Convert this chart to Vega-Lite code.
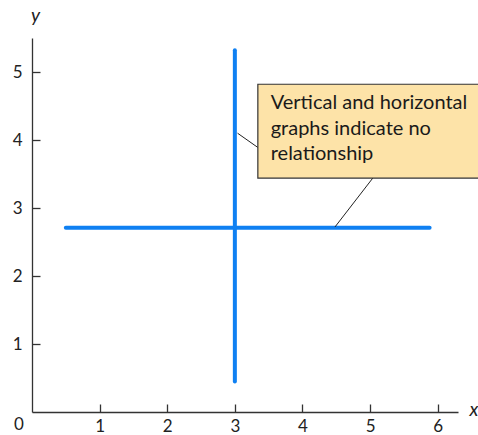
{
  "$schema": "https://vega.github.io/schema/vega-lite/v6.json",
  "width": 426,
  "height": 374,
  "autosize": {"type": "none"},
  "padding": {"left": 32, "top": 38, "right": 20, "bottom": 23},
  "background": "white",
  "config": {
    "view": {"stroke": null},
    "font": "Lato",
    "axis": {
      "grid": false,
      "domainColor": "#333333",
      "domainWidth": 1.3,
      "tickColor": "#333333",
      "tickWidth": 1.3,
      "tickSize": -8,
      "labelFont": "Lato",
      "labelFontSize": 17,
      "labelColor": "#222222",
      "format": "d",
      "titleFont": "Lato",
      "titleFontSize": 19,
      "titleFontStyle": "italic",
      "titleFontWeight": "normal",
      "titleColor": "#222222"
    }
  },
  "layer": [
    {
      "data": {"values": [
        {"x": 0.5, "y": 2.71, "x2": 5.88, "y2": 2.71},
        {"x": 3.0, "y": 0.45, "x2": 3.0, "y2": 5.32}
      ]},
      "mark": {"type": "rule", "color": "#0f80f2", "strokeWidth": 4, "strokeCap": "round"},
      "encoding": {
        "x": {"field": "x", "type": "quantitative", "scale": {"domain": [0, 6.3], "zero": false, "nice": false},
          "axis": {"values": [1, 2, 3, 4, 5, 6], "format": "d", "title": "x", "titleX": 437, "titleY": -3, "titleAlign": "left", "titleBaseline": "middle", "titleAngle": 0, "labelPadding": 14}},
        "y": {"field": "y", "type": "quantitative", "scale": {"domain": [0, 5.5], "zero": false, "nice": false},
          "axis": {"values": [1, 2, 3, 4, 5], "format": "d", "title": "y", "titleX": 3, "titleY": -23, "titleAlign": "center", "titleBaseline": "middle", "titleAngle": 0, "labelPadding": 18}},
        "x2": {"field": "x2"},
        "y2": {"field": "y2"}
      }
    },
    {
      "data": {"values": [
        {"x": 3.04, "y": 4.1, "x2": 3.34, "y2": 3.89},
        {"x": 4.48, "y": 2.72, "x2": 5.04, "y2": 3.44}
      ]},
      "mark": {"type": "rule", "color": "#222222", "strokeWidth": 1},
      "encoding": {
        "x": {"field": "x", "type": "quantitative"},
        "y": {"field": "y", "type": "quantitative"},
        "x2": {"field": "x2"},
        "y2": {"field": "y2"}
      }
    },
    {
      "data": {"values": [{"x": 3.34, "y": 3.44, "x2": 6.9, "y2": 4.82}]},
      "mark": {"type": "rect", "fill": "#fde3a8", "stroke": "#333333", "strokeWidth": 1.2},
      "encoding": {
        "x": {"field": "x", "type": "quantitative"},
        "y": {"field": "y", "type": "quantitative"},
        "x2": {"field": "x2"},
        "y2": {"field": "y2"}
      }
    },
    {
      "data": {"values": [
        {"x": 3.53, "y": 4.45, "label": "Vertical and horizontal"},
        {"x": 3.53, "y": 4.07, "label": "graphs indicate no"},
        {"x": 3.53, "y": 3.71, "label": "relationship"}
      ]},
      "mark": {"type": "text", "align": "left", "baseline": "alphabetic", "fontSize": 20, "color": "#1a1a1a", "font": "Lato"},
      "encoding": {
        "x": {"field": "x", "type": "quantitative"},
        "y": {"field": "y", "type": "quantitative"},
        "text": {"field": "label"}
      }
    },
    {
      "data": {"values": [{"x": 0, "y": 0, "label": "0"}]},
      "mark": {"type": "text", "align": "center", "baseline": "middle", "fontSize": 17, "color": "#222222", "dx": -13, "dy": 13, "font": "Lato"},
      "encoding": {
        "x": {"field": "x", "type": "quantitative"},
        "y": {"field": "y", "type": "quantitative"},
        "text": {"field": "label"}
      }
    }
  ]
}
